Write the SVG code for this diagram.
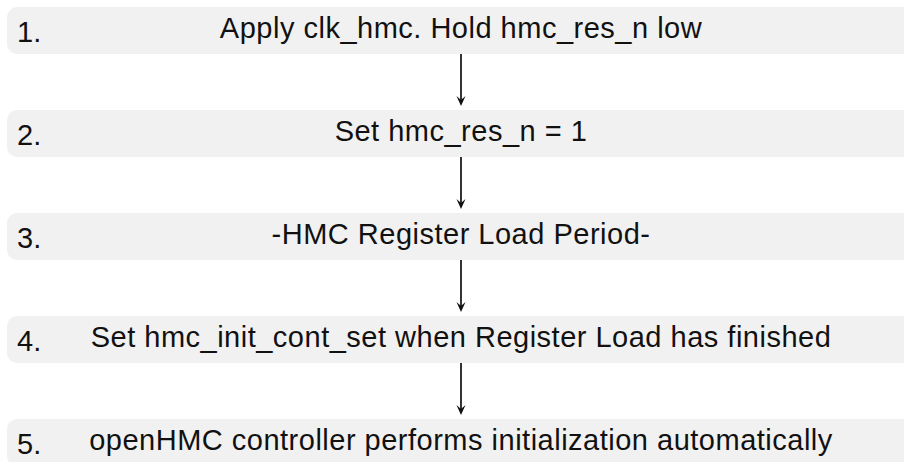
<svg xmlns="http://www.w3.org/2000/svg" width="904" height="462" viewBox="0 0 904 462">
  <style>
    .box { fill: #f1f1f1; }
    .num { font-family: "Liberation Sans", Arial, Helvetica, sans-serif; font-size: 29px; fill: #111; }
    .label { font-family: "Liberation Sans", Arial, Helvetica, sans-serif; font-size: 29px; letter-spacing: 0.5px; fill: #111; text-anchor: middle; }
    .conn { stroke: #333; stroke-width: 2; fill: none; }
  </style>
  <defs>
    <marker id="arrow" markerUnits="userSpaceOnUse" markerWidth="12" markerHeight="12" refX="6" refY="10" orient="auto" overflow="visible">
      <path d="M6,10 L1.5,0 L6,4 L10.5,0 Z" transform="rotate(-90 6 6)" fill="#111"/>
    </marker>
  </defs>
  <rect width="904" height="462" fill="#ffffff"/>

  <g id="step1">
    <rect class="box" x="7" y="7" width="920" height="47" rx="10"/>
    <text class="num" x="17" y="41.5">1.</text>
    <text class="label" x="461" y="38.3">Apply clk_hmc. Hold hmc_res_n low</text>
  </g>
  <g id="step2">
    <rect class="box" x="7" y="110" width="920" height="47" rx="10"/>
    <text class="num" x="17" y="144.5">2.</text>
    <text class="label" x="461" y="141.3">Set hmc_res_n = 1</text>
  </g>
  <g id="step3">
    <rect class="box" x="7" y="213" width="920" height="47" rx="10"/>
    <text class="num" x="17" y="247.5">3.</text>
    <text class="label" x="461" y="244.3">-HMC Register Load Period-</text>
  </g>
  <g id="step4">
    <rect class="box" x="7" y="316" width="920" height="47" rx="10"/>
    <text class="num" x="17" y="350.5">4.</text>
    <text class="label" x="461" y="347.3">Set hmc_init_cont_set when Register Load has finished</text>
  </g>
  <g id="step5">
    <rect class="box" x="7" y="419" width="920" height="47" rx="10"/>
    <text class="num" x="17" y="453.5">5.</text>
    <text class="label" x="461" y="450.3">openHMC controller performs initialization automatically</text>
  </g>

  <g id="connectors">
    <line class="conn" x1="461" y1="54" x2="461" y2="100"/>
    <path d="M461,106 L456.5,96 L461,100 L465.5,96 Z" fill="#111"/>
    <line class="conn" x1="461" y1="157" x2="461" y2="203"/>
    <path d="M461,209 L456.5,199 L461,203 L465.5,199 Z" fill="#111"/>
    <line class="conn" x1="461" y1="260" x2="461" y2="306"/>
    <path d="M461,312 L456.5,302 L461,306 L465.5,302 Z" fill="#111"/>
    <line class="conn" x1="461" y1="363" x2="461" y2="409"/>
    <path d="M461,415 L456.5,405 L461,409 L465.5,405 Z" fill="#111"/>
  </g>
</svg>
